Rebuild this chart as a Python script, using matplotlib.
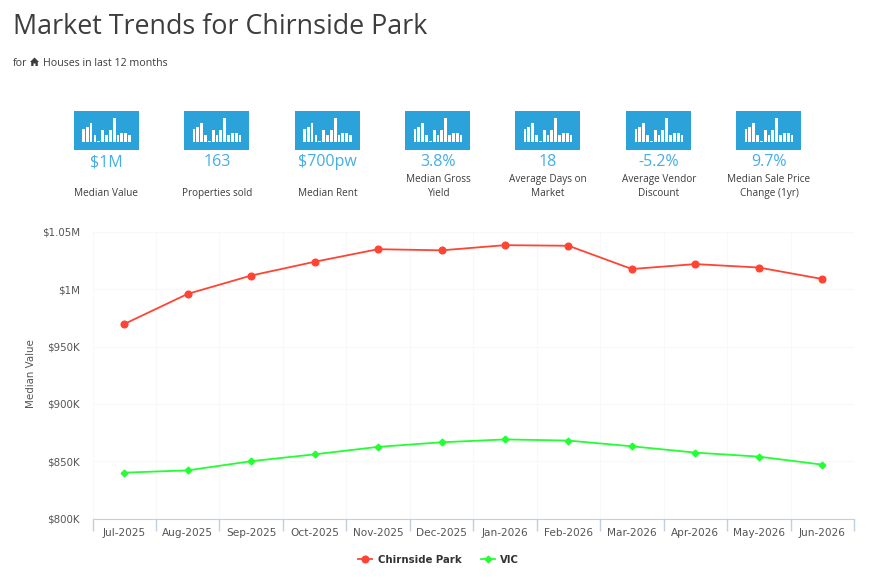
import matplotlib
matplotlib.use("Agg")
import matplotlib.pyplot as plt
from matplotlib.patches import Polygon, Rectangle

months = ["Jul-2025","Aug-2025","Sep-2025","Oct-2025","Nov-2025","Dec-2025",
          "Jan-2026","Feb-2026","Mar-2026","Apr-2026","May-2026","Jun-2026"]
chirnside = [969.7,996,1012,1024,1035,1034,1038.5,1038,1017.7,1022,1019,1009]
vic = [840,842,850,856,862.5,866.5,869,868,863,857.5,854,847]
yticks = [800,850,900,950,1000,1050]
ylabels = ["$800K","$850K","$900K","$950K","$1M","$1.05M"]

stat_values = ["$1M","163","$700pw","3.8%","18","-5.2%","9.7%"]
stat_labels = ["Median Value","Properties sold","Median Rent","Median Gross\nYield",
               "Average Days on\nMarket","Average Vendor\nDiscount","Median Sale Price\nChange (1yr)"]
icon_bars = [6,7,8.5,3,0.5,5.5,3,5.5,11,3,4,4,3]

W,H = 879,581
fig = plt.figure(figsize=(W/100,H/100),dpi=100,facecolor="white")
TXT="#3d3d3d"; SANS="Open Sans"

# page overlay in pixel coordinates
pg = fig.add_axes([0,0,1,1]); pg.set_xlim(0,W); pg.set_ylim(H,0); pg.axis("off")
pg.text(13,27,"Market Trends for Chirnside Park",fontsize=19.4,family=SANS,color=TXT,va="center",ha="left")
pg.text(13,66,"for",fontsize=7.7,family=SANS,color=TXT,va="baseline")
pg.add_patch(Polygon([(30,62),(34.5,57.5),(39,62),(37.8,62),(37.8,66),(35.5,66),(35.5,63.5),(33.5,63.5),(33.5,66),(31.2,66),(31.2,62)],
                     closed=True,fc=TXT,ec="none"))
pg.text(43,66,"Houses in last 12 months",fontsize=7.7,family=SANS,color=TXT,va="baseline")

centers=[106.5,217,327.5,438,548,659,769]
for cx,v,l in zip(centers,stat_values,stat_labels):
    pg.add_patch(Rectangle((cx-32.5,111),65,39,fc="#2ba2da",ec="none"))
    ax_i = fig.add_axes([(cx-25)/W,1-142/H,50/W,24/H])
    ax_i.bar(range(len(icon_bars)),icon_bars,width=0.72,color="white")
    ax_i.set_xlim(-0.5,len(icon_bars)-0.5); ax_i.set_ylim(0,11); ax_i.axis("off")
    pg.text(cx,162,v,fontsize=11.5,family=SANS,color="#45aee6",ha="center",va="center")
    if "\n" in l:
        pg.text(cx,186.5,l,fontsize=7.2,family=SANS,color=TXT,ha="center",va="center",linespacing=1.35)
    else:
        pg.text(cx,196,l,fontsize=7.2,family=SANS,color=TXT,ha="center",va="baseline")

# main chart
L,R,T,B = 92.5,854,232,518.5
ax = fig.add_axes([L/W,1-B/H,(R-L)/W,(B-T)/H],facecolor="none")
x = list(range(12))
ax.set_xlim(-0.5,11.5); ax.set_ylim(800,1050)
ax.plot(x,chirnside,color="#ff4433",lw=1.3,marker="o",ms=4.8,mec="#ff4433",clip_on=False,label="Chirnside Park")
ax.plot(x,vic,color="#22ff33",lw=1.3,marker="D",ms=3.4,mec="#22ff33",clip_on=False,label="VIC")
ax.set_xticks([i-0.5 for i in range(13)],minor=False)
ax.set_xticklabels([""]*13)
ax.set_xticks(x,minor=True)
ax.set_xticklabels(months,minor=True,fontsize=7.6,color="#555555",family="DejaVu Sans")
ax.tick_params(axis="x",which="major",length=8.5,width=1,color="#c0d0e0")
ax.tick_params(axis="x",which="minor",length=0,pad=7)
ax.set_yticks(yticks); ax.set_yticklabels(ylabels,fontsize=7.4,color="#555555",family="DejaVu Sans")
ax.tick_params(axis="y",length=0,pad=9)
ax.grid(True,axis="both",which="major",color="#f7f8f9",lw=0.8)
ax.set_axisbelow(True)
for s in ["top","right","left"]:
    ax.spines[s].set_visible(False)
ax.spines["bottom"].set_color("#c0d0e0")
pg.text(31,374,"Median Value",rotation=90,fontsize=7.4,color="#555555",family="DejaVu Sans",ha="center",va="center")

h,lab = ax.get_legend_handles_labels()
leg = fig.legend(h,lab,loc="center",bbox_to_anchor=(438.5/W,1-560/H),ncol=2,frameon=False,
                 prop={"family":"DejaVu Sans","weight":"bold","size":7.3},labelcolor="#333333",
                 handlelength=1.4,columnspacing=1.9,handletextpad=0.5)
fig.savefig("out.png",dpi=100)
